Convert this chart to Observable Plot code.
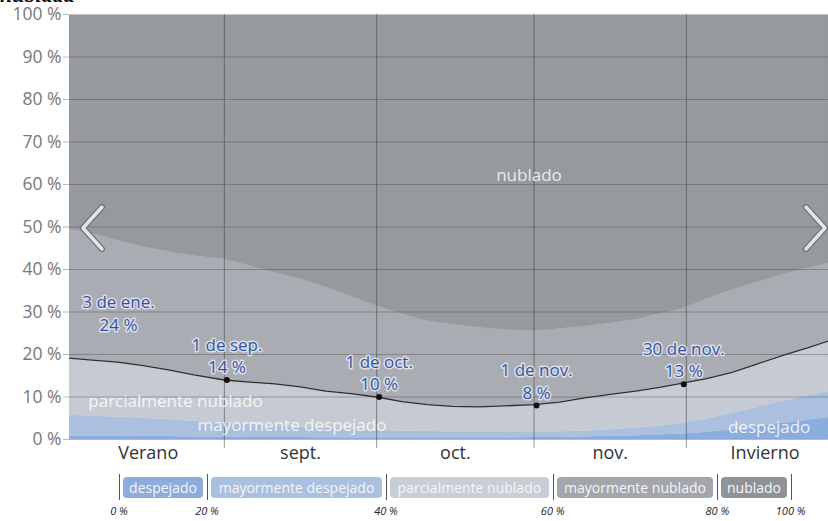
<!DOCTYPE html>
<html>
<head>
<meta charset="utf-8">
<script src="https://cdn.jsdelivr.net/npm/d3@7"></script>
<script src="https://cdn.jsdelivr.net/npm/@observablehq/plot@0.6"></script>
<style>
  html, body { margin: 0; padding: 0; background: #fff; }
  #wrap { position: relative; width: 828px; height: 521px; overflow: hidden; font-family: "Open Sans", sans-serif; }
  #title { position: absolute; left: 0; top: -17px; font: italic bold 22px "Liberation Serif", serif; color: #111; white-space: nowrap; line-height: 24px; }
  #chart { position: absolute; left: 0; top: 0; }
  .chev { position: absolute; top: 204px; }
  #legend { position: absolute; left: 0; top: 0; width: 828px; height: 521px; pointer-events: none; }
  .sep { position: absolute; top: 474px; width: 1px; height: 26px; background: #555; }
  .box { position: absolute; top: 477px; height: 21px; border-radius: 4px; color: #f6f6f6; font-size: 14px; line-height: 21px; text-align: center; white-space: nowrap; }
  .pct { position: absolute; top: 503px; width: 50px; margin-left: -25px; text-align: center; font-size: 11px; font-style: italic; color: #222; }
</style>
</head>
<body>
<div id="wrap">
  <div id="chart"></div>
  <div id="title">nublada</div>
  <svg class="chev" style="left:78px" width="30" height="48"><polyline points="24,3 5,24 24,45" fill="none" stroke="#6e7075" stroke-width="6" stroke-linecap="round" stroke-linejoin="round"/><polyline points="24,3 5,24 24,45" fill="none" stroke="#e4e5e8" stroke-width="3.5" stroke-linecap="round" stroke-linejoin="round"/></svg>
  <svg class="chev" style="left:801px" width="30" height="48"><polyline points="5,3 24,24 5,45" fill="none" stroke="#6e7075" stroke-width="6" stroke-linecap="round" stroke-linejoin="round"/><polyline points="5,3 24,24 5,45" fill="none" stroke="#e4e5e8" stroke-width="3.5" stroke-linecap="round" stroke-linejoin="round"/></svg>
  <div id="legend"></div>
</div>
<script>
// ---- data ----
const categories = ["despejado", "mayormente despejado", "parcialmente nublado", "mayormente nublado", "nublado"];
const colors = ["#8badde", "#abc0df", "#c6cad3", "#a9acb3", "#96999e"];
const legendColors = ["#8cacdc", "#aac0e0", "#c9cdd6", "#a3a6ac", "#8f9297"];

const dates = ["2023-08-01","2023-08-06","2023-08-11","2023-08-16","2023-08-21","2023-08-26",
  "2023-09-01","2023-09-06","2023-09-11","2023-09-16","2023-09-21","2023-09-26",
  "2023-10-01","2023-10-06","2023-10-11","2023-10-16","2023-10-21","2023-10-26",
  "2023-11-01","2023-11-06","2023-11-11","2023-11-16","2023-11-21","2023-11-26","2023-11-30",
  "2023-12-05","2023-12-10","2023-12-15","2023-12-20","2023-12-25","2023-12-29"];

const despejado = [0.8,0.8,0.8,0.7,0.7,0.6, 0.6,0.5,0.5,0.5,0.4,0.4, 0.4,0.4,0.4,0.4,0.4,0.4, 0.5,0.5,0.6,0.8,0.9,1.1,1.3, 1.7,2.3,3.0,3.8,4.6,5.2];
const mayormenteDespejado = [4.9,4.7,4.5,4.3,4.0,3.7, 3.3,3.1,2.8,2.5,2.3,2.0, 1.8,1.6,1.5,1.4,1.3,1.3, 1.2,1.3,1.4,1.5,1.8,2.1,2.5, 3.1,3.9,4.6,5.2,5.7,6.1];
const parcialmenteNublado = [13.5,13.2,12.9,12.4,11.7,10.9, 10.1,9.9,9.8,9.4,8.7,8.4, 7.8,6.9,6.3,6.0,6.0,6.2, 6.5,7.0,7.8,8.3,8.7,9.1,9.4, 9.5,9.6,10.2,10.8,11.3,11.9];
const mayormenteNublado = [30.3,29.8,28.6,27.9,27.8,28.0, 28.4,27.3,26.1,25.3,24.4,22.8, 21.4,20.6,19.7,19.2,18.6,17.9, 17.3,17.2,16.8,16.7,16.8,17.3,17.4, 18.7,19.4,19.2,19.0,18.7,18.3];
const nublado = [50.5,51.5,53.2,54.7,55.8,56.8, 57.6,59.2,60.8,62.3,64.2,66.4, 68.6,70.5,72.1,73.0,73.7,74.2, 74.5,74.0,73.4,72.7,71.8,70.4,69.4, 67.0,64.8,63.0,61.2,59.7,58.5];

const monthStarts = ["2023-09-01","2023-10-01","2023-11-01","2023-12-01"];
const periodLabels = ["Verano", "sept.", "oct.", "nov.", "Invierno"];
const periodLabelDates = ["2023-08-17","2023-09-16","2023-10-16T12:00","2023-11-16","2023-12-16T12:00"];

const annotDates = ["2023-09-01T12:00","2023-10-01T12:00","2023-11-01T12:00","2023-11-30T12:00"];
const annotLabels = ["1 de sep.", "1 de oct.", "1 de nov.", "30 de nov."];
const annotValues = [14, 10, 8, 13];
const offLabel = {label: "3 de ene.", value: 24};

const yTicks = [0,10,20,30,40,50,60,70,80,90,100];
const legendPct = ["0 %","20 %","40 %","60 %","80 %","100 %"];

// ---- build tables ----
const toDate = s => new Date(s.length === 10 ? s + "T00:00Z" : s + "Z");
const series = [despejado, mayormenteDespejado, parcialmenteNublado, mayormenteNublado, nublado];
const tidy = [];
series.forEach((vals, i) => vals.forEach((v, j) => tidy.push({date: toDate(dates[j]), cat: categories[i], value: v})));
const clearLine = dates.map((d, j) => ({date: toDate(d), value: despejado[j] + mayormenteDespejado[j] + parcialmenteNublado[j]}));
const annots = annotDates.map((d, i) => ({date: toDate(d), label: annotLabels[i], value: annotValues[i]}));
const labelMap = new Map(periodLabelDates.map((d, i) => [+toDate(d), periodLabels[i]]));

const xDomain = [toDate("2023-08-01T12:00"), toDate("2023-12-29")];

const areaLabelsStart = [
  {text: "parcialmente nublado", date: toDate("2023-08-05T05:00"), value: 8.9},
  {text: "mayormente despejado", date: toDate("2023-08-26T17:00"), value: 3.2}
];
const areaLabelsMid = [{text: "nublado", date: toDate("2023-10-31"), value: 62}];
const areaLabelsEnd = [{text: "despejado", date: toDate("2023-12-25T10:00"), value: 2.9}];

const halo = {fontSize: 17, fill: "#3654a5", stroke: "#eef0f6", strokeWidth: 3, strokeOpacity: 0.75, lineAnchor: "bottom", dy: -7, lineHeight: 1.3};

const chart = Plot.plot({
  width: 828,
  height: 470,
  marginLeft: 69,
  marginRight: 0,
  marginTop: 14,
  marginBottom: 31,
  style: {fontFamily: "'Open Sans', sans-serif", background: "white", overflow: "visible"},
  x: {type: "utc", domain: xDomain, label: null},
  y: {domain: [0, 100], label: null},
  color: {domain: categories, range: colors},
  marks: [
    Plot.areaY(tidy, {x: "date", y: "value", fill: "cat", stroke: "cat", strokeWidth: 0.3, clip: true}),
    Plot.ruleY(yTicks.filter(d => d < 100), {y: d => d, stroke: "#3c3c3c", strokeOpacity: 0.35}),
    Plot.ruleY([100], {stroke: "#c8c8c8"}),
    Plot.ruleX(monthStarts.map(toDate), {x: d => d, stroke: "#333", strokeOpacity: 0.5}),
    Plot.axisX({ticks: monthStarts.map(toDate), tickSize: 9, tickFormat: () => "", label: null, stroke: "#555", strokeOpacity: 0.6}),
    Plot.axisX({ticks: periodLabelDates.map(toDate), tickSize: 0, tickPadding: 7, label: null, tickFormat: d => labelMap.get(+d), fontSize: 18, fill: "#333"}),
    Plot.axisY({ticks: yTicks, tickSize: 6, tickPadding: 2, label: null, tickFormat: d => `${d} %`, fontSize: 17.5, fill: "#777", stroke: "#3c3c3c", strokeOpacity: 0.35}),
    Plot.lineY(clearLine, {x: "date", y: "value", stroke: "#2e2e2e", strokeWidth: 1.3, clip: true}),
    Plot.dot(annots, {x: "date", y: "value", r: 3, fill: "#111"}),
    Plot.text(annots, {x: "date", y: "value", text: d => `${d.label}\n${d.value} %`, ...halo}),
    Plot.text([offLabel], {x: () => xDomain[0], y: "value", dx: 49, text: d => `${d.label}\n${d.value} %`, ...halo}),
    Plot.text(areaLabelsStart, {x: "date", y: "value", text: "text", textAnchor: "start", fontSize: 17, fill: "#fafafa", fillOpacity: 0.9}),
    Plot.text(areaLabelsMid, {x: "date", y: "value", text: "text", textAnchor: "middle", fontSize: 17, fill: "#f2f2f2", fillOpacity: 0.95}),
    Plot.text(areaLabelsEnd, {x: "date", y: "value", text: "text", textAnchor: "end", fontSize: 17, fill: "#fafafa", fillOpacity: 0.9})
  ]
});
document.getElementById("chart").appendChild(chart);

// ---- legend (below the chart) ----
const sepX = [119, 207, 386, 552.7, 717.3, 790.7];
const legend = document.getElementById("legend");
sepX.forEach((x, i) => {
  const s = document.createElement("div");
  s.className = "sep"; s.style.left = x + "px"; legend.appendChild(s);
  const p = document.createElement("div");
  p.className = "pct"; p.style.left = x + "px"; p.textContent = legendPct[i]; legend.appendChild(p);
  if (i < categories.length) {
    const b = document.createElement("div");
    b.className = "box";
    b.style.left = (x + 4) + "px";
    b.style.width = (sepX[i + 1] - x - 8) + "px";
    b.style.background = legendColors[i];
    b.textContent = categories[i];
    legend.appendChild(b);
  }
});
</script>
</body>
</html>
